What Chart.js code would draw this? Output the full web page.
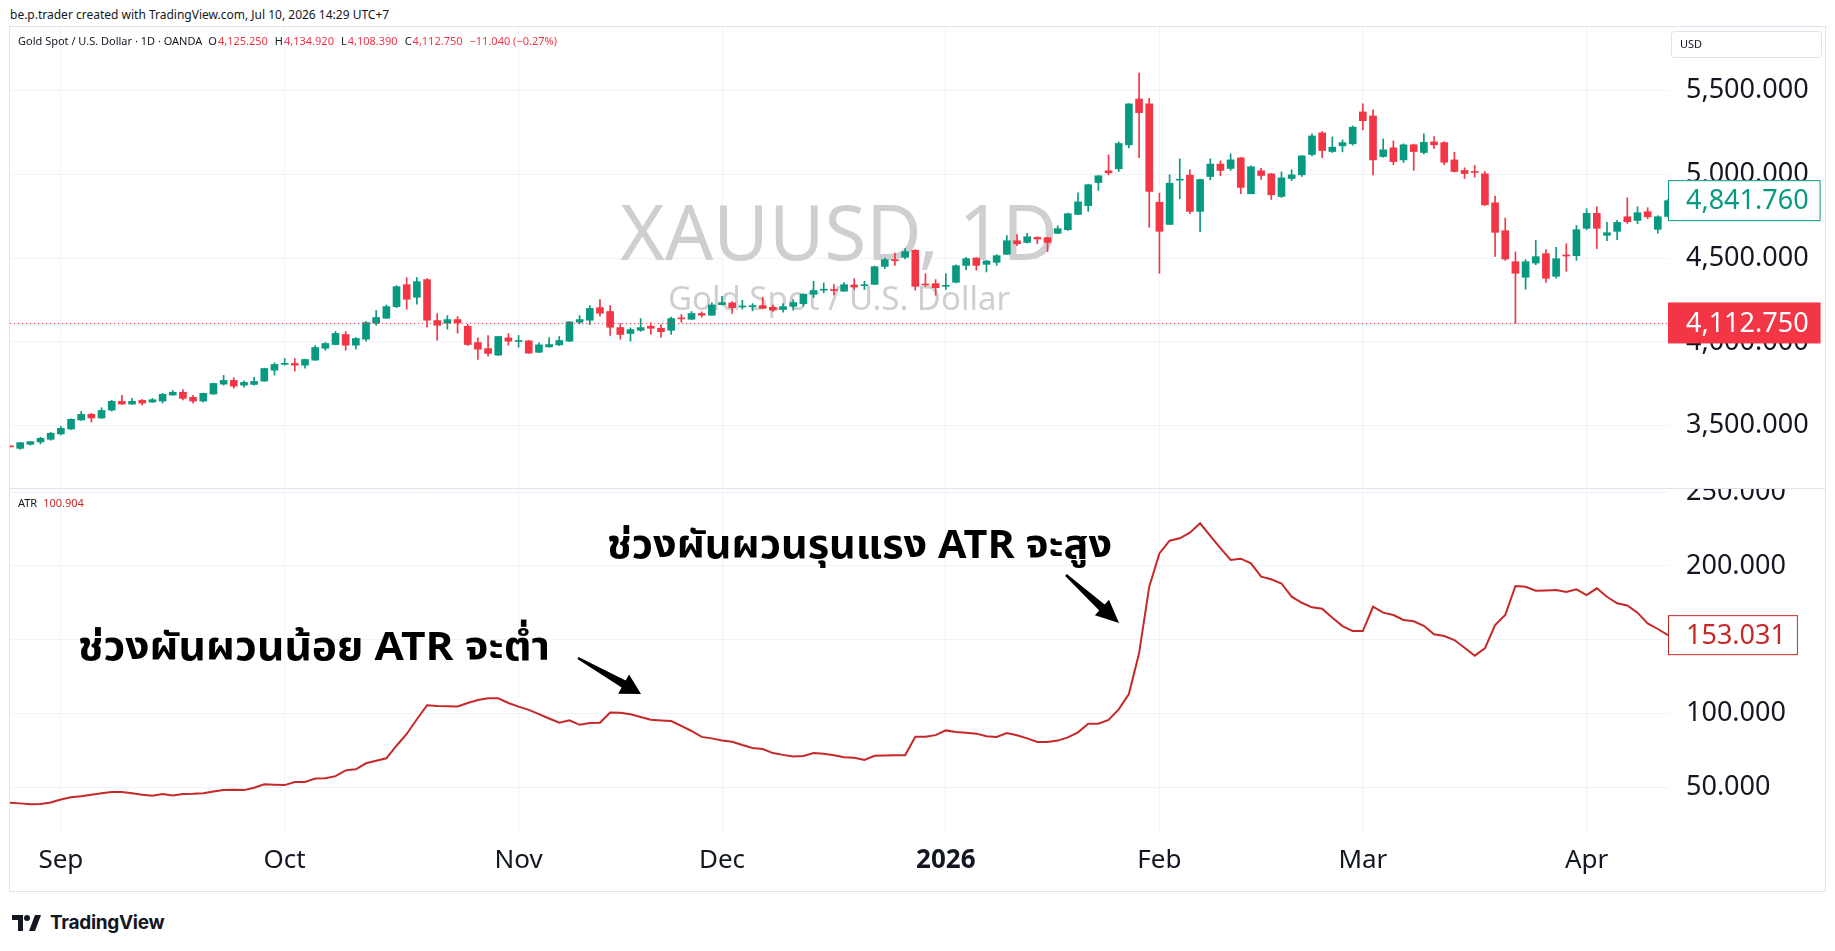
<!DOCTYPE html>
<html>
<head>
<meta charset="utf-8">
<script src="https://cdn.jsdelivr.net/npm/chart.js@4.4.1/dist/chart.umd.min.js"></script>
<style>
  body { margin: 0; background: #fff; width: 1835px; height: 951px; overflow: hidden; font-family: "Noto Sans", sans-serif; color: #131722; }
  #top { position: absolute; left: 10px; top: 6px; font-size: 12px; }
  #frame { position: absolute; left: 9px; top: 26px; width: 1815px; height: 864px; border: 1px solid #e0e3eb; }
  #sep { position: absolute; left: 10px; top: 488px; width: 1815px; height: 1px; background: #e0e3eb; }
  canvas { position: absolute; left: 10px; }
  #price { top: 27px; }
  #atr { top: 489px; }
  #logo { position: absolute; left: 12px; top: 911px; display: flex; align-items: center; gap: 8px; font: bold 19px Inter, "Noto Sans", sans-serif; letter-spacing: -0.3px; }
</style>
</head>
<body>
<div id="top">be.p.trader created with TradingView.com, Jul 10, 2026 14:29 UTC+7</div>
<div id="frame"></div>
<canvas id="price" width="1815" height="461"></canvas>
<div id="sep"></div>
<canvas id="atr" width="1815" height="402"></canvas>
<div id="logo">
  <svg width="30" height="17" viewBox="0 0 30 17"><path d="M11 17H6V6H0V1h11z M23 17h-6L23 1h6z" fill="#131722"/><circle cx="15" cy="4" r="3" fill="#131722"/></svg>
  <span>TradingView</span>
</div>
<script>
// daily candles, Aug 25 2025 .. Apr 13 2026 (trading days)
const opens = [
  3379, 3365, 3389, 3403, 3419, 3451, 3480, 3534, 3568, 3546,
  3593, 3645, 3629, 3651, 3641, 3647, 3683, 3699, 3669, 3647,
  3689, 3748, 3770, 3742, 3746, 3766, 3831, 3866, 3871, 3861,
  3891, 3962, 3984, 4044, 3980, 4016, 4111, 4141, 4210, 4341,
  4266, 4371, 4127, 4111, 4133, 4093, 3996, 3960, 3921, 4024,
  4002, 4006, 3938, 3970, 3982, 4004, 4117, 4129, 4204, 4181,
  4085, 4050, 4069, 4093, 4081, 4069, 4141, 4135, 4169, 4159,
  4222, 4232, 4208, 4210, 4216, 4206, 4193, 4212, 4228, 4284,
  4308, 4312, 4302, 4339, 4335, 4343, 4450, 4490, 4504, 4546,
  4345, 4347, 4331, 4355, 4456, 4500, 4462, 4474, 4522, 4603,
  4593, 4623, 4621, 4647, 4669, 4760, 4812, 4950, 5020, 5032,
  5175, 5448, 5419, 4833, 4700, 4964, 4994, 4778, 4986, 5060,
  5034, 5097, 4883, 5020, 5002, 4867, 4974, 4996, 5117, 5246,
  5135, 5169, 5181, 5371, 5347, 5105, 5157, 5085, 5175, 5129,
  5192, 5188, 5085, 5022, 5016, 5002, 4829, 4663, 4478, 4385,
  4470, 4526, 4391, 4516, 4514, 4677, 4766, 4635, 4659, 4746,
  4724, 4776, 4671, 4748
];
const highs = [
  3381, 3400, 3406, 3431, 3460, 3496, 3541, 3585, 3574, 3607,
  3651, 3681, 3663, 3657, 3663, 3693, 3710, 3716, 3681, 3695,
  3754, 3800, 3786, 3768, 3788, 3843, 3875, 3901, 3901, 3897,
  3978, 3996, 4062, 4062, 4026, 4121, 4187, 4220, 4335, 4383,
  4383, 4377, 4169, 4157, 4151, 4105, 4024, 4038, 4032, 4050,
  4038, 4008, 3994, 4026, 4032, 4121, 4157, 4216, 4252, 4216,
  4109, 4083, 4139, 4113, 4103, 4147, 4163, 4181, 4179, 4232,
  4272, 4240, 4248, 4228, 4266, 4220, 4228, 4252, 4286, 4361,
  4351, 4341, 4353, 4377, 4361, 4452, 4500, 4530, 4556, 4550,
  4407, 4371, 4407, 4460, 4504, 4502, 4486, 4520, 4633, 4639,
  4647, 4627, 4623, 4692, 4768, 4889, 4940, 4992, 5115, 5192,
  5419, 5603, 5452, 4887, 4996, 5091, 5026, 4970, 5091, 5079,
  5121, 5099, 5050, 5034, 5004, 5014, 5026, 5111, 5240, 5254,
  5222, 5204, 5288, 5419, 5383, 5210, 5198, 5181, 5179, 5240,
  5224, 5194, 5131, 5038, 5052, 5016, 4869, 4738, 4536, 4490,
  4605, 4550, 4564, 4585, 4694, 4794, 4806, 4712, 4724, 4859,
  4806, 4800, 4752, 4850
];
const lows = [
  3372, 3359, 3385, 3391, 3413, 3445, 3478, 3532, 3522, 3544,
  3587, 3627, 3627, 3623, 3639, 3635, 3681, 3653, 3635, 3641,
  3687, 3742, 3724, 3730, 3742, 3764, 3802, 3861, 3826, 3843,
  3889, 3950, 3982, 3950, 3956, 4004, 4099, 4139, 4204, 4195,
  4224, 4087, 4010, 4076, 4052, 3978, 3895, 3915, 3919, 3980,
  3968, 3931, 3936, 3968, 3978, 4002, 4107, 4103, 4153, 4038,
  4016, 4004, 4063, 4046, 4028, 4044, 4117, 4133, 4147, 4157,
  4218, 4169, 4195, 4185, 4197, 4181, 4177, 4189, 4214, 4264,
  4292, 4280, 4300, 4312, 4312, 4341, 4436, 4456, 4494, 4308,
  4331, 4278, 4312, 4351, 4431, 4427, 4417, 4456, 4520, 4573,
  4589, 4585, 4538, 4645, 4665, 4758, 4778, 4903, 4996, 5016,
  5157, 5099, 4683, 4409, 4700, 4853, 4764, 4657, 4966, 4990,
  5022, 4883, 4883, 4968, 4849, 4861, 4962, 4986, 5109, 5099,
  5129, 5133, 5173, 5264, 4996, 5101, 5056, 5069, 5022, 5121,
  5153, 5056, 5012, 4974, 4982, 4813, 4510, 4486, 4109, 4314,
  4460, 4355, 4379, 4421, 4486, 4669, 4556, 4603, 4609, 4706,
  4704, 4734, 4647, 4745
];
const closes = [
  3374, 3399, 3405, 3425, 3455, 3484, 3538, 3568, 3546, 3591,
  3645, 3629, 3645, 3635, 3655, 3687, 3699, 3663, 3647, 3693,
  3752, 3770, 3736, 3758, 3764, 3841, 3865, 3870, 3861, 3895,
  3966, 3990, 4050, 3980, 4020, 4115, 4145, 4210, 4329, 4254,
  4359, 4129, 4099, 4133, 4113, 3984, 3956, 3931, 4032, 4004,
  4006, 3933, 3982, 3984, 4008, 4119, 4133, 4199, 4171, 4087,
  4044, 4073, 4085, 4081, 4061, 4139, 4137, 4169, 4159, 4220,
  4234, 4204, 4212, 4212, 4200, 4189, 4210, 4234, 4284, 4306,
  4312, 4306, 4341, 4327, 4339, 4448, 4490, 4484, 4538, 4331,
  4339, 4323, 4337, 4454, 4496, 4456, 4482, 4514, 4603, 4585,
  4627, 4613, 4593, 4675, 4764, 4835, 4937, 4990, 5008, 5183,
  5419, 5367, 4897, 4659, 4946, 4968, 4778, 4968, 5060, 5022,
  5085, 4921, 5044, 4992, 4877, 4978, 4996, 5109, 5228, 5141,
  5161, 5188, 5280, 5319, 5085, 5145, 5075, 5175, 5135, 5190,
  5175, 5071, 5016, 5004, 5010, 4817, 4653, 4494, 4409, 4478,
  4508, 4379, 4496, 4512, 4669, 4766, 4677, 4651, 4712, 4716,
  4770, 4746, 4746, 4841.76
];
const atr = [
  39.4, 38.9, 38.3, 38.5, 39.5, 41.5, 43.0, 43.8, 44.8, 45.8,
  46.6, 46.6, 45.8, 44.8, 44.0, 45.2, 44.2, 45.2, 45.4, 45.8,
  47.0, 48.0, 48.2, 47.9, 49.5, 51.8, 51.5, 51.3, 53.4, 53.4,
  55.7, 55.9, 57.4, 61.3, 62.0, 66.1, 67.8, 69.5, 78.0, 86.0,
  96.0, 105.5, 105.0, 104.8, 104.7, 107.0, 109.0, 110.2, 110.2, 107.0,
  104.5, 102.3, 99.5, 96.5, 93.6, 95.2, 92.2, 93.4, 93.6, 100.6,
  100.4, 99.3, 97.5, 95.6, 95.2, 94.8, 91.5, 88.0, 84.0, 83.0,
  81.5, 80.7, 78.5, 76.5, 75.8, 73.0, 71.8, 70.7, 71.0, 73.0,
  72.5, 71.5, 70.2, 69.9, 68.3, 71.2, 71.4, 71.5, 71.6, 84.1,
  84.1, 85.2, 88.4, 87.3, 86.8, 86.2, 84.5, 83.9, 86.6, 85.1,
  83.0, 80.5, 80.6, 81.5, 83.7, 87.1, 93.0, 93.0, 95.5, 102.7,
  113.1, 140.7, 185.9, 208.5, 217.1, 218.7, 222.5, 228.9, 220.3, 212.0,
  204.0, 204.9, 201.7, 192.7, 190.9, 188.1, 179.1, 175.0, 171.9, 171.0,
  164.9, 159.2, 155.8, 155.8, 172.3, 168.3, 166.7, 163.3, 162.4, 159.4,
  153.6, 152.4, 149.7, 144.5, 139.1, 144.1, 159.9, 166.7, 186.4, 185.9,
  183.2, 183.4, 183.6, 182.3, 184.1, 180.2, 184.8, 179.1, 174.6, 173.2,
  168.3, 161.0, 157.2, 153.031
];

const monthStarts = [5, 27, 50, 70, 92, 113, 133, 155];
const monthLabels = ['Sep', 'Oct', 'Nov', 'Dec', '2026', 'Feb', 'Mar', 'Apr'];
const priceTicks = [3500, 4000, 4500, 5000, 5500];
const atrTicks = [50, 100, 150, 200, 250];
const legendOHLC = [4125.25, 4134.92, 4108.39, 4112.75];
const legendChange = '−11.040 (−0.27%)';
const markPrice = 4112.75;
const atrLegend = 100.904;

const up = '#089981', down = '#f23645', atrColor = '#c62828', gridColor = '#f0f3fa';
const axisFont = '"Noto Sans", sans-serif';
const fmt = v => v.toLocaleString('en-US', { minimumFractionDigits: 3, maximumFractionDigits: 3 });
const idx = closes.map((_, i) => i);
const colors = closes.map((c, i) => c >= opens[i] ? up : down);
const last = closes.length - 1;

// right axis: fixed width, no extra room for the end labels
const fitRightAxis = s => { s.width = 157; s.paddingTop = 0; s.paddingBottom = 0; };

function rightBox(ctx, area, y, text, color, filled, h) {
  ctx.font = '27px ' + axisFont;
  const w = 18 + ctx.measureText(text).width + 12;
  ctx.fillStyle = filled ? color : '#fff';
  ctx.fillRect(area.right, y - h / 2, w, h);
  if (!filled) {
    ctx.strokeStyle = color;
    ctx.lineWidth = 1;
    ctx.strokeRect(area.right + 0.5, y - h / 2 + 0.5, w - 1, h - 1);
  }
  ctx.fillStyle = filled ? '#fff' : color;
  ctx.textBaseline = 'middle';
  ctx.textAlign = 'left';
  ctx.fillText(text, area.right + 18, y + 1);
}

function drawArrow(ctx, x1, y1, x2, y2, headLen, headHalf, tailHalf, neckHalf) {
  const len = Math.hypot(x2 - x1, y2 - y1);
  const ux = (x2 - x1) / len, uy = (y2 - y1) / len, nx = -uy, ny = ux;
  const bx = x2 - ux * headLen, by = y2 - uy * headLen;
  ctx.beginPath();
  ctx.moveTo(x1 + nx * tailHalf, y1 + ny * tailHalf);
  ctx.lineTo(bx + nx * neckHalf, by + ny * neckHalf);
  ctx.lineTo(bx + nx * headHalf, by + ny * headHalf);
  ctx.lineTo(x2, y2);
  ctx.lineTo(bx - nx * headHalf, by - ny * headHalf);
  ctx.lineTo(bx - nx * neckHalf, by - ny * neckHalf);
  ctx.lineTo(x1 - nx * tailHalf, y1 - ny * tailHalf);
  ctx.closePath();
  ctx.fill();
}

// text squeezed to a given width (the original uses a condensed bold face)
function fitText(ctx, text, x, y, width) {
  const m = ctx.measureText(text).width;
  ctx.save();
  ctx.translate(x, y);
  ctx.scale(width / m, 1);
  ctx.fillText(text, 0, 0);
  ctx.restore();
}

const pricePlugin = {
  id: 'pricePane',
  beforeDatasetsDraw(chart) {
    const { ctx, chartArea: a } = chart;
    const cx = (a.left + a.right) / 2;
    ctx.save();
    ctx.fillStyle = '#cfcfcf';
    ctx.textAlign = 'center';
    ctx.textBaseline = 'alphabetic';
    ctx.font = '76px ' + axisFont;
    ctx.fillText('XAUUSD, 1D', cx, 233);
    ctx.font = '33px ' + axisFont;
    ctx.fillText('Gold Spot / U.S. Dollar', cx, 283);
    ctx.restore();
  },
  afterDraw(chart) {
    const { ctx, chartArea: a, scales: { y } } = chart;
    ctx.save();
    // mark price dotted line
    const py = Math.round(y.getPixelForValue(markPrice)) + 0.5;
    ctx.strokeStyle = down;
    ctx.lineWidth = 1;
    ctx.setLineDash([1, 3]);
    ctx.beginPath();
    ctx.moveTo(a.left, py);
    ctx.lineTo(a.right, py);
    ctx.stroke();
    ctx.setLineDash([]);

    rightBox(ctx, a, y.getPixelForValue(closes[last]), fmt(closes[last]), up, false, 41);
    rightBox(ctx, a, y.getPixelForValue(markPrice), fmt(markPrice), down, true, 41);

    // currency box
    ctx.strokeStyle = '#e0e3eb';
    ctx.beginPath();
    ctx.roundRect(a.right + 3.5, 4.5, 150, 26, 3);
    ctx.stroke();
    ctx.fillStyle = '#131722';
    ctx.font = '11px ' + axisFont;
    ctx.textBaseline = 'middle';
    ctx.textAlign = 'left';
    ctx.fillText('USD', a.right + 12, 18);

    // legend
    let x = 8;
    const ly = 15;
    const part = (t, c, gap) => { ctx.fillStyle = c; ctx.fillText(t, x, ly); x += ctx.measureText(t).width + (gap || 0); };
    part('Gold Spot / U.S. Dollar · 1D · OANDA', '#131722', 6);
    ['O', 'H', 'L', 'C'].forEach((k, i) => { part(k, '#131722', 1); part(fmt(legendOHLC[i]), down, 7); });
    part(legendChange, down);
    ctx.restore();
  }
};

new Chart(document.getElementById('price'), {
  type: 'bar',
  data: {
    datasets: [
      { data: idx.map(i => ({ x: i, y: [lows[i], highs[i]] })), backgroundColor: colors, barThickness: 1, grouped: false, order: 2 },
      { data: idx.map(i => ({ x: i, y: [opens[i], closes[i]] })), backgroundColor: colors, barThickness: 7, minBarLength: 1, grouped: false, order: 1 }
    ]
  },
  options: {
    responsive: false,
    animation: false,
    events: [],
    layout: { padding: 0 },
    plugins: { legend: { display: false }, tooltip: { enabled: false } },
    scales: {
      x: {
        type: 'linear', min: 0, max: last, offset: false,
        grid: { color: gridColor, offset: false, drawTicks: false },
        border: { display: false },
        ticks: { display: false },
        afterBuildTicks: s => { s.ticks = monthStarts.map(v => ({ value: v })); },
        afterFit: s => { s.height = 0; s.paddingLeft = 0; s.paddingRight = 0; }
      },
      y: {
        position: 'right', min: 3128.5, max: 5877.5,
        grid: { color: gridColor, drawTicks: false },
        border: { display: false },
        ticks: { padding: 18, color: '#131722', font: { size: 27, family: axisFont }, callback: v => fmt(v) },
        afterBuildTicks: s => { s.ticks = priceTicks.map(v => ({ value: v })); },
        afterFit: fitRightAxis
      }
    }
  },
  plugins: [pricePlugin]
});

const atrPlugin = {
  id: 'atrPane',
  afterDraw(chart) {
    const { ctx, chartArea: a, scales: { y } } = chart;
    ctx.save();
    rightBox(ctx, a, y.getPixelForValue(atr[last]), fmt(atr[last]), atrColor, false, 40);

    ctx.font = '11px ' + axisFont;
    ctx.textBaseline = 'middle';
    ctx.textAlign = 'left';
    ctx.fillStyle = '#131722';
    ctx.fillText('ATR', 8, 15);
    ctx.fillStyle = atrColor;
    ctx.fillText(fmt(atrLegend), 8 + ctx.measureText('ATR').width + 6, 15);

    ctx.fillStyle = '#000';
    ctx.textBaseline = 'alphabetic';
    ctx.font = 'bold 39px "Noto Sans Thai", "Noto Sans", sans-serif';
    fitText(ctx, 'ช่วงผันผวนรุนแรง ATR จะสูง', 597, 69, 505);
    fitText(ctx, 'ช่วงผันผวนน้อย ATR จะต่ำ', 68, 171, 472);
    drawArrow(ctx, 568, 169, 631, 205, 20, 11, 1.2, 4);
    drawArrow(ctx, 1056, 86, 1109, 134, 23, 10.5, 1.2, 4);
    ctx.restore();
  }
};

new Chart(document.getElementById('atr'), {
  type: 'line',
  data: {
    datasets: [{ data: idx.map(i => ({ x: i, y: atr[i] })), borderColor: atrColor, borderWidth: 2, pointRadius: 0, tension: 0 }]
  },
  options: {
    responsive: false,
    animation: false,
    events: [],
    layout: { padding: { top: 1 } },
    plugins: { legend: { display: false }, tooltip: { enabled: false } },
    scales: {
      x: {
        type: 'linear', min: 0, max: last, offset: false,
        grid: { color: gridColor, drawTicks: false },
        border: { display: false },
        ticks: {
          padding: 12, autoSkip: false, maxRotation: 0, minRotation: 0, color: '#131722',
          font: c => ({ size: 26, family: axisFont, weight: monthLabels[c.index] === '2026' ? 'bold' : 'normal' }),
          callback: v => monthLabels[monthStarts.indexOf(v)]
        },
        afterBuildTicks: s => { s.ticks = monthStarts.map(v => ({ value: v })); },
        afterFit: s => { s.height = 58; s.paddingLeft = 0; s.paddingRight = 0; }
      },
      y: {
        position: 'right', min: 18.8, max: 251.5,
        grid: { color: gridColor, drawTicks: false },
        border: { display: false },
        ticks: { padding: 18, color: '#131722', font: { size: 27, family: axisFont }, callback: v => fmt(v) },
        afterBuildTicks: s => { s.ticks = atrTicks.map(v => ({ value: v })); },
        afterFit: fitRightAxis
      }
    }
  },
  plugins: [atrPlugin]
});
</script>
</body>
</html>
